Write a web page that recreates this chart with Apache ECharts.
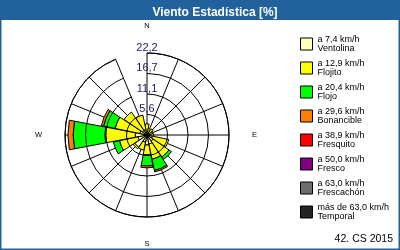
<!DOCTYPE html>
<html>
<head>
<meta charset="utf-8">
<script src="https://cdn.jsdelivr.net/npm/echarts@6/dist/echarts.min.js"></script>
<style>
html,body{margin:0;padding:0;background:#fff;}
#c{width:400px;height:250px;}
</style>
</head>
<body>
<div id="c"></div>
<script>
// ---- data ----
const directions = ['N','NNE','NE','ENE','E','ESE','SE','SSE','S','SSW','SW','WSW','W','WNW','NW','NNW'];
const shownDirections = ['N','E','S','W'];
const ringLabels = ['5,6','11,1','16,7','22,2'];
const ringStep = 5.55;
const ringMax = 22.2;

const classNames = ['Ventolina','Flojito','Flojo','Bonancible','Fresquito','Fresco','Frescachón','Temporal'];
const classLimits = ['a 7,4 km/h','a 12,9 km/h','a 20,4 km/h','a 29,6 km/h','a 38,9 km/h','a 50,0 km/h','a 63,0 km/h','más de 63,0 km/h'];
const classColors = ['#FFFFC0','#FFFF00','#00FF00','#FF8000','#FF0000','#800080','#6E6E6E','#222222'];

// percentages per direction (N ... NNW)
const ventolina  = [0.8,0.8,0.8,0.8,0.8,1.5,2.0,2.5,2.7,2.0,4.0,2.5,3.2,2.0,1.5,1.5];
const flojito    = [2.2,1.0,1.2,0.8,1.0,4.5,5.2,4.2,2.7,2.2,0.5,5.1,8.2,6.8,6.0,4.0];
const flojo      = [0,0,0,0,0,0,0.8,3.1,3.0,0,0,1.7,8.6,3.2,0,0];
const bonancible = [0,0,0,0,0,0,0,0.4,0.5,0,0,0,1.4,0.6,0,0];
const fresquito  = [0,0,0,0,0,0,0,0,0,0,0,0,0,0,0,0];
const fresco     = [0,0,0,0,0,0,0,0,0,0,0,0,0,0,0,0];
const frescachon = [0,0,0,0,0,0,0,0,0,0,0,0,0,0,0,0];
const temporal   = [0,0,0,0,0,0,0,0,0,0,0,0,0,0,0,0];
const classValues = [ventolina, flojito, flojo, bonancible, fresquito, fresco, frescachon, temporal];

const titleText = 'Viento Estadística [%]';
const footerText = '42. CS 2015';

// ---- chart ----
const chart = echarts.init(document.getElementById('c'), null, {renderer:'canvas'});
const FONT = 'Liberation Sans';

const series = classNames.map((name, i) => ({
  name: name,
  type: 'bar',
  coordinateSystem: 'polar',
  stack: 'wind',
  barCategoryGap: '4%',
  data: classValues[i].map(v => v === 0 ? '-' : v),
  itemStyle: { color: classColors[i], borderColor: '#000', borderWidth: 1 },
  emphasis: { disabled: true },
  animation: false,
  z: 2
}));

const legendLabel = {};
classNames.forEach((n, i) => { legendLabel[n] = classLimits[i] + '\n' + n; });

chart.setOption({
  animation: false,
  backgroundColor: '#fff',
  title: {
    text: titleText,
    left: 210, top: 2, textAlign: 'center',
    textStyle: { color: '#fff', fontFamily: FONT, fontWeight: 'bold', fontSize: 12 }
  },
  polar: { center: [147, 135], radius: 82 },
  angleAxis: {
    type: 'category',
    data: directions,
    boundaryGap: false,
    startAngle: 90,
    clockwise: true,
    axisLine: { show: true, lineStyle: { color: '#000', width: 1 } },
    axisTick: { show: false },
    splitLine: { show: true, lineStyle: { color: '#000', width: 1 } },
    axisLabel: {
      margin: 23,
      fontFamily: FONT, fontSize: 7.5, color: '#000',
      formatter: v => shownDirections.indexOf(v) >= 0 ? v : ''
    }
  },
  radiusAxis: {
    type: 'value',
    min: 0, max: ringMax, interval: ringStep,
    axisLine: { show: false },
    axisTick: { show: false },
    splitLine: { show: true, lineStyle: { color: '#000', width: 1 } },
    axisLabel: {
      margin: 0,
      align: 'center', verticalAlign: 'bottom',
      fontFamily: FONT, fontSize: 11, color: '#1a1a5e',
      formatter: v => { const k = Math.round(v / ringStep); return k > 0 ? ringLabels[k - 1] : ''; }
    },
    z: 5
  },
  legend: {
    orient: 'vertical',
    left: 295, top: 25.5,
    itemWidth: 12, itemHeight: 12,
    itemGap: -3,
    itemStyle: { borderColor: '#000', borderWidth: 1 },
    icon: 'rect',
    selectedMode: false,
    textStyle: { fontFamily: FONT, fontSize: 9, lineHeight: 8.5, color: '#000', padding: [10, 0, 0, 0] },
    formatter: n => legendLabel[n],
    data: classNames
  },
  graphic: [
    { type: 'rect', shape: { x: 0, y: 0, width: 400, height: 20 }, style: { fill: '#21619c' }, z: -1, silent: true },
    { type: 'rect', shape: { x: 0.75, y: 0.75, width: 398.5, height: 248.5 }, style: { fill: null, stroke: '#21619c', lineWidth: 1.5 }, z: 10, silent: true },
    { type: 'text', right: 7, top: 234, style: { text: footerText, fontFamily: FONT, fontSize: 10.5, fill: '#000' }, silent: true }
  ],
  series: series
});
</script>
</body>
</html>
